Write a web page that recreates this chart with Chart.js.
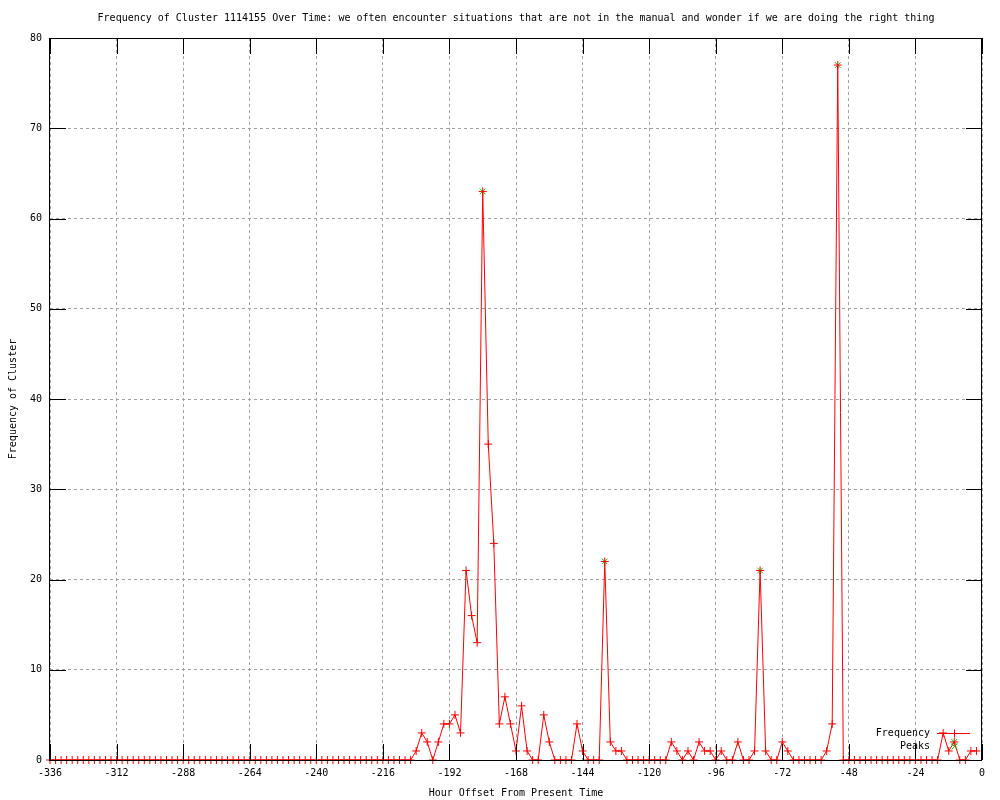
<!DOCTYPE html>
<html>
<head>
<meta charset="utf-8">
<script src="https://cdn.jsdelivr.net/npm/chart.js@4/dist/chart.umd.min.js"></script>
<style>
html,body{margin:0;padding:0;background:#fff;}
canvas{display:block;}
</style>
</head>
<body>
<canvas id="c" width="1000" height="800"></canvas>
<script>
// ---------- data ----------
const TITLE = "Frequency of Cluster 1114155 Over Time: we often encounter situations that are not in the manual and wonder if we are doing the right thing";
const X_TITLE = "Hour Offset From Present Time";
const Y_TITLE = "Frequency of Cluster";

const hours = [
  -336,-334,-332,-330,-328,-326,-324,-322,-320,-318,-316,-314,
  -312,-310,-308,-306,-304,-302,-300,-298,-296,-294,-292,-290,
  -288,-286,-284,-282,-280,-278,-276,-274,-272,-270,-268,-266,
  -264,-262,-260,-258,-256,-254,-252,-250,-248,-246,-244,-242,
  -240,-238,-236,-234,-232,-230,-228,-226,-224,-222,-220,-218,
  -216,-214,-212,-210,-208,-206,-204,-202,-200,-198,-196,-194,
  -192,-190,-188,-186,-184,-182,-180,-178,-176,-174,-172,-170,
  -168,-166,-164,-162,-160,-158,-156,-154,-152,-150,-148,-146,
  -144,-142,-140,-138,-136,-134,-132,-130,-128,-126,-124,-122,
  -120,-118,-116,-114,-112,-110,-108,-106,-104,-102,-100,-98,
  -96,-94,-92,-90,-88,-86,-84,-82,-80,-78,-76,-74,
  -72,-70,-68,-66,-64,-62,-60,-58,-56,-54,-52,-50,
  -48,-46,-44,-42,-40,-38,-36,-34,-32,-30,-28,-26,
  -24,-22,-20,-18,-16,-14,-12,-10,-8,-6,-4,-2
];

const frequency = [
  0,0,0,0,0,0,0,0,0,0,0,0,
  0,0,0,0,0,0,0,0,0,0,0,0,
  0,0,0,0,0,0,0,0,0,0,0,0,
  0,0,0,0,0,0,0,0,0,0,0,0,
  0,0,0,0,0,0,0,0,0,0,0,0,
  0,0,0,0,0,0,1,3,2,0,2,4,
  4,5,3,21,16,13,63,35,24,4,7,4,
  1,6,1,0,0,5,2,0,0,0,0,4,
  1,0,0,0,22,2,1,1,0,0,0,0,
  0,0,0,0,2,1,0,1,0,2,1,1,
  0,1,0,0,2,0,0,1,21,1,0,0,
  2,1,0,0,0,0,0,0,1,4,77,0,
  0,0,0,0,0,0,0,0,0,0,0,0,
  0,0,0,0,0,3,1,2,0,0,1,1
];

const peakHours  = [-180, -136, -80, -52, -10];
const peakValues = [63, 22, 21, 77, 2];

const xTicks = [-336,-312,-288,-264,-240,-216,-192,-168,-144,-120,-96,-72,-48,-24,0];
const yTicks = [0,10,20,30,40,50,60,70,80];

// ---------- styling ----------
const FONT_FAMILY = '"DejaVu Sans Mono", "Liberation Mono", monospace';
const FONT_SIZE = 10;
const TICK_LEN = 16;
const RED = '#ff0000';
const GREEN = '#00c000';

Chart.defaults.color = '#000';
Chart.defaults.font.family = FONT_FAMILY;
Chart.defaults.font.size = FONT_SIZE;

const decor = {
  id: 'gnuplotDecor',
  afterDatasetsDraw(chart) {
    const {ctx, chartArea: a, scales: {x, y}} = chart;
    ctx.save();
    ctx.setLineDash([]);
    ctx.strokeStyle = '#000';
    ctx.lineWidth = 1;
    ctx.beginPath();
    xTicks.forEach(v => {
      const px = Math.round(x.getPixelForValue(v)) + 0.5;
      ctx.moveTo(px, a.bottom); ctx.lineTo(px, a.bottom - TICK_LEN);
      ctx.moveTo(px, a.top); ctx.lineTo(px, a.top + TICK_LEN);
    });
    yTicks.forEach(v => {
      const py = Math.round(y.getPixelForValue(v)) + 0.5;
      ctx.moveTo(a.left, py); ctx.lineTo(a.left + TICK_LEN, py);
      ctx.moveTo(a.right, py); ctx.lineTo(a.right - TICK_LEN, py);
    });
    ctx.stroke();
    ctx.strokeRect(Math.round(a.left) - 0.5, Math.round(a.top) + 0.5,
                   Math.round(a.right - a.left), Math.round(a.bottom - a.top));
    ctx.restore();
  },
  afterDraw(chart) {
    const {ctx, chartArea: a} = chart;
    ctx.save();
    ctx.fillStyle = '#000';
    ctx.font = FONT_SIZE + 'px ' + FONT_FAMILY;
    ctx.textAlign = 'center';
    ctx.textBaseline = 'middle';
    ctx.fillText(TITLE, (a.left + a.right) / 2, 18);

    // legend (gnuplot style: text right-aligned, sample to the right)
    ctx.textAlign = 'right';
    chart.data.datasets.forEach((ds, i) => {
      const yy = Math.round(a.bottom - 27 + i * 13) + 0.5;
      ctx.fillStyle = '#000';
      ctx.fillText(ds.label, a.right - 52, yy);
      const x0 = a.right - 45, x1 = a.right - 12, xm = Math.round((x0 + x1) / 2) + 0.5;
      ctx.lineWidth = 1;
      if (ds.showLine !== false) {
        ctx.strokeStyle = RED;
        ctx.beginPath();
        ctx.moveTo(x0, yy);
        ctx.lineTo(x1, yy);
        ctx.stroke();
      }
      ctx.strokeStyle = ds.pointBorderColor;
      Chart.helpers.drawPoint(ctx, {
        pointStyle: ds.pointStyle, radius: ds.pointRadius, borderWidth: 1, rotation: 0
      }, xm, yy);
    });
    ctx.restore();
  }
};

const freqData = hours.map((h, i) => ({x: h, y: frequency[i]}));
const peakData = peakHours.map((h, i) => ({x: h, y: peakValues[i]}));

new Chart(document.getElementById('c'), {
  type: 'line',
  data: {
    datasets: [
      {
        label: 'Frequency',
        data: freqData,
        borderColor: RED,
        backgroundColor: RED,
        borderWidth: 1,
        pointStyle: 'cross',
        pointRadius: 4,
        pointBorderColor: RED,
        pointBorderWidth: 1,
        pointHoverRadius: 4,
        tension: 0,
        fill: false,
        clip: false,
        order: 1
      },
      {
        label: 'Peaks',
        data: peakData,
        borderColor: GREEN,
        backgroundColor: GREEN,
        showLine: false,
        pointStyle: 'crossRot',
        pointRadius: 4,
        pointBorderColor: GREEN,
        pointBorderWidth: 1,
        clip: false,
        order: 2
      }
    ]
  },
  options: {
    responsive: false,
    animation: false,
    events: [],
    layout: {padding: {left: 0, right: 18, top: 38, bottom: 0}},
    plugins: {
      legend: {display: false},
      title: {display: false},
      tooltip: {enabled: false}
    },
    scales: {
      x: {
        type: 'linear',
        min: -336, max: 0,
        afterBuildTicks: s => { s.ticks = xTicks.map(v => ({value: v})); },
        ticks: {
          autoSkip: false, maxRotation: 0, padding: 7,
          callback: v => String(v),
          font: {family: FONT_FAMILY, size: FONT_SIZE}
        },
        grid: {color: '#a0a0a0', lineWidth: 1, drawTicks: false, borderDash: [3, 3]},
        border: {display: false, dash: [3, 3]},
        title: {display: true, text: X_TITLE, padding: {top: 0, bottom: 1},
                font: {family: FONT_FAMILY, size: FONT_SIZE}},
        afterFit: s => { s.height = 40; s.paddingLeft = 0; s.paddingRight = 0; }
      },
      y: {
        type: 'linear',
        min: 0, max: 80,
        afterBuildTicks: s => { s.ticks = yTicks.map(v => ({value: v})); },
        ticks: {
          autoSkip: false, padding: 8,
          callback: v => String(v),
          font: {family: FONT_FAMILY, size: FONT_SIZE}
        },
        grid: {color: '#a0a0a0', lineWidth: 1, drawTicks: false, borderDash: [3, 3]},
        border: {display: false, dash: [3, 3]},
        title: {display: true, text: Y_TITLE, padding: {top: 7, bottom: 0},
                font: {family: FONT_FAMILY, size: FONT_SIZE}},
        afterFit: s => { s.width = 50; s.paddingTop = 0; s.paddingBottom = 0; }
      }
    }
  },
  plugins: [decor]
});
</script>
</body>
</html>
